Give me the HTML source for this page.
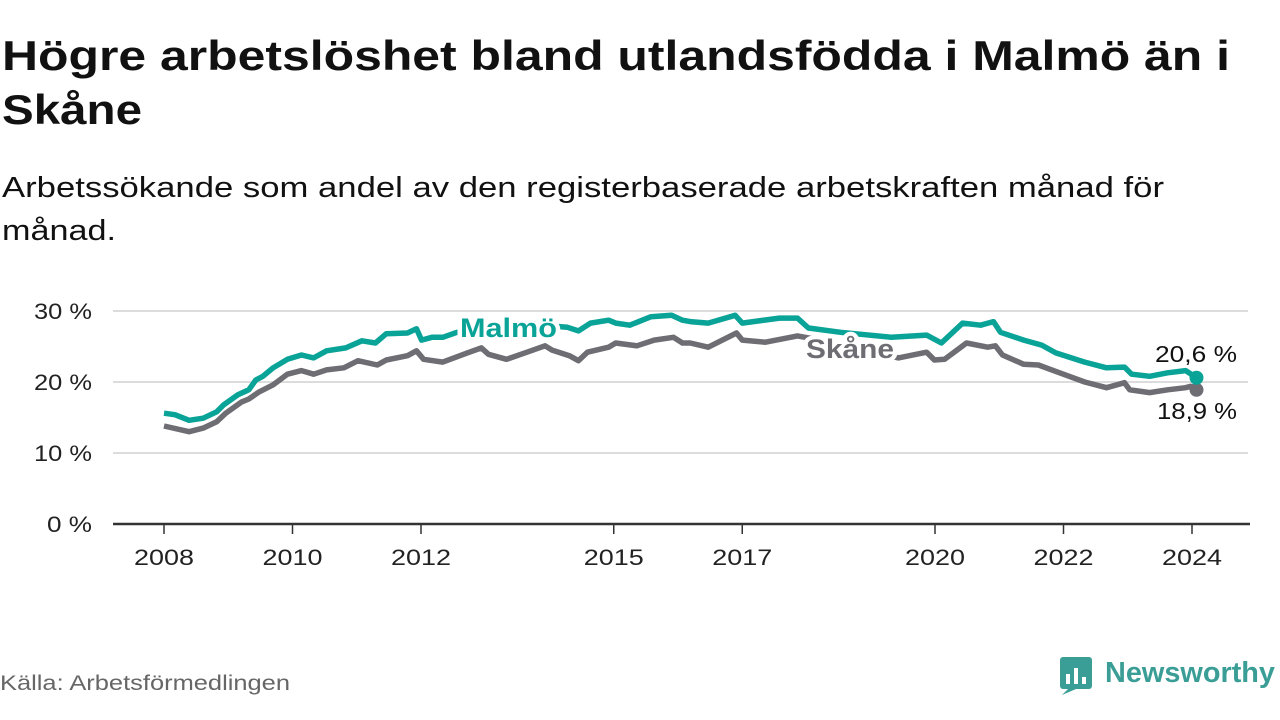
<!DOCTYPE html>
<html><head><meta charset="utf-8"><style>
body{margin:0;background:#fff;width:1280px;height:720px;overflow:hidden}
svg{display:block;font-family:"Liberation Sans","DejaVu Sans",sans-serif}
</style></head><body>
<svg id="c" width="1280" height="720" viewBox="0 0 1280 720">
<text x="2" y="70" font-size="42" font-weight="bold" fill="#111" textLength="1228" lengthAdjust="spacingAndGlyphs">Högre arbetslöshet bland utlandsfödda i Malmö än i</text>
<text x="2" y="124" font-size="42" font-weight="bold" fill="#111" textLength="140" lengthAdjust="spacingAndGlyphs">Skåne</text>
<text x="2" y="197" font-size="29" fill="#111" textLength="1162" lengthAdjust="spacingAndGlyphs">Arbetssökande som andel av den registerbaserade arbetskraften månad för</text>
<text x="2" y="240" font-size="29" fill="#111" textLength="114" lengthAdjust="spacingAndGlyphs">månad.</text>
<g id="grid"></g><g id="xax"></g><g id="lines"></g><g id="labels"></g>
<text x="0" y="690" font-size="21" fill="#666" textLength="290" lengthAdjust="spacingAndGlyphs">Källa: Arbetsförmedlingen</text>
<g>
<rect x="1060" y="657" width="32" height="32" rx="3" fill="#3a9e96"/>
<path d="M1068 689 L1062 695 L1076 689 Z" fill="#3a9e96"/>
<rect x="1066" y="674" width="4" height="10" fill="#fff"/><rect x="1074" y="668" width="4" height="16" fill="#fff"/><rect x="1082" y="677" width="4" height="7" fill="#fff"/>
<text x="1105" y="682" font-size="29" font-weight="bold" fill="#3a9e96" textLength="170" lengthAdjust="spacingAndGlyphs">Newsworthy</text>
</g>
</svg>
<script>
const yTicks=[0,10,20,30];
const xTicks=[2008,2010,2012,2015,2017,2020,2022,2024];
const malmoYears=[2008.0,2008.17,2008.39,2008.61,2008.82,2008.93,2009.15,2009.32,2009.43,2009.54,2009.70,2009.92,2010.14,2010.33,2010.53,2010.83,2011.08,2011.29,2011.46,2011.79,2011.93,2012.01,2012.17,2012.34,2012.56,2013.0,2013.5,2014.0,2014.28,2014.45,2014.64,2014.92,2015.03,2015.25,2015.58,2015.90,2016.07,2016.19,2016.47,2016.89,2017.00,2017.58,2017.86,2018.03,2018.53,2019.32,2019.87,2020.10,2020.43,2020.71,2020.91,2021.02,2021.38,2021.66,2021.88,2022.33,2022.67,2022.95,2023.06,2023.34,2023.62,2023.90,2024.07];
const malmoValues=[15.6,15.4,14.6,14.9,15.8,16.8,18.2,18.9,20.3,20.8,22.0,23.2,23.8,23.4,24.4,24.8,25.8,25.5,26.8,26.9,27.5,25.9,26.3,26.3,27.0,27.4,27.6,27.9,27.7,27.2,28.3,28.7,28.3,28.0,29.2,29.4,28.7,28.5,28.3,29.4,28.3,29.0,29.0,27.6,27.0,26.3,26.6,25.5,28.3,28.0,28.5,27.0,25.9,25.2,24.1,22.8,22.0,22.1,21.1,20.8,21.3,21.6,20.6];
const skaneYears=[2008.0,2008.39,2008.61,2008.82,2008.96,2009.21,2009.32,2009.48,2009.70,2009.92,2010.14,2010.33,2010.53,2010.80,2011.02,2011.32,2011.46,2011.79,2011.93,2012.04,2012.34,2012.72,2012.94,2013.05,2013.33,2013.65,2013.93,2014.04,2014.31,2014.45,2014.59,2014.92,2015.03,2015.36,2015.63,2015.93,2016.07,2016.19,2016.47,2016.91,2017.00,2017.36,2017.86,2018.4,2018.9,2019.43,2019.87,2019.99,2020.15,2020.49,2020.82,2020.94,2021.05,2021.38,2021.61,2021.94,2022.33,2022.67,2022.95,2023.03,2023.34,2023.62,2023.90,2023.98,2024.07];
const skaneValues=[13.8,13.0,13.5,14.4,15.6,17.2,17.6,18.6,19.6,21.1,21.6,21.1,21.7,22.0,23.0,22.4,23.1,23.7,24.4,23.2,22.8,24.1,24.8,23.9,23.2,24.2,25.1,24.5,23.7,23.0,24.2,24.9,25.5,25.1,25.9,26.3,25.5,25.5,24.9,26.9,25.9,25.6,26.5,25.6,24.6,23.4,24.2,23.1,23.2,25.5,24.9,25.1,23.8,22.5,22.4,21.3,20.0,19.2,19.9,18.9,18.5,18.9,19.2,19.4,18.9];
const NS='http://www.w3.org/2000/svg';
const X=y=>164+(y-2008)*64.25;
const Y=v=>524-v*7.1;
function mk(t,a,p){const e=document.createElementNS(NS,t);for(const k in a)e.setAttribute(k,a[k]);document.getElementById(p).appendChild(e);return e;}
yTicks.forEach(v=>{
 if(v>0){const g=mk('line',{x1:113,x2:1248,y1:Y(v),y2:Y(v),stroke:'#dcdcdc','stroke-width':2},'grid');
 
 }
 const t=mk('text',{x:92,y:Y(v)+8,'font-size':22,'text-anchor':'end',fill:'#222',textLength:v>0?58:45,lengthAdjust:'spacingAndGlyphs'},'grid');
 t.textContent=v+' %';
 
 
});
const ax=mk('line',{x1:113,x2:1250,y1:524,y2:524,stroke:'#333','stroke-width':2.5},'xax');


xTicks.forEach(y=>{
 mk('line',{x1:X(y),x2:X(y),y1:524,y2:534,stroke:'#333','stroke-width':1.5},'xax');
 const t=mk('text',{x:X(y),y:565,'font-size':22,'text-anchor':'middle',fill:'#222',textLength:60,lengthAdjust:'spacingAndGlyphs'},'xax');
 t.textContent=y;
 
 
});
function line(xs,vs,col,name){
 const d=xs.map((x,i)=>(i?'L':'M')+X(x).toFixed(1)+' '+Y(vs[i]).toFixed(1)).join(' ');
 const p=mk('path',{d:d,fill:'none',stroke:col,'stroke-width':5.5,'stroke-linejoin':'round'},'lines');
 
 
 const n=xs.length-1;
 const c=mk('circle',{cx:X(xs[n]),cy:Y(vs[n]),r:7,fill:col},'lines');
 
 
}
line(skaneYears,skaneValues,'#6e6d73','skane-line');
line(malmoYears,malmoValues,'#0aa397','malmo-line');
function lab(x,y,s,col,fs,bold,name,w){
 const t=mk('text',{x:x,y:y,'font-size':fs,'font-weight':bold?'bold':'normal',fill:col,stroke:'#fff','stroke-width':bold?8:5,'paint-order':'stroke','stroke-linejoin':'round',textLength:w,lengthAdjust:'spacingAndGlyphs'},'labels');
 t.textContent=s;
 
 
}
lab(460,337,'Malmö','#0aa397',27,true,'malmo-label',97);
lab(806,358,'Skåne','#6e6d73',27,true,'skane-label',88);
lab(1155,362,malmoValues[malmoValues.length-1].toFixed(1).replace('.',',')+' %','#111',23,false,'malmo-value-label',82);
lab(1157,419,skaneValues[skaneValues.length-1].toFixed(1).replace('.',',')+' %','#111',23,false,'skane-value-label',80);
</script>
</body></html>
